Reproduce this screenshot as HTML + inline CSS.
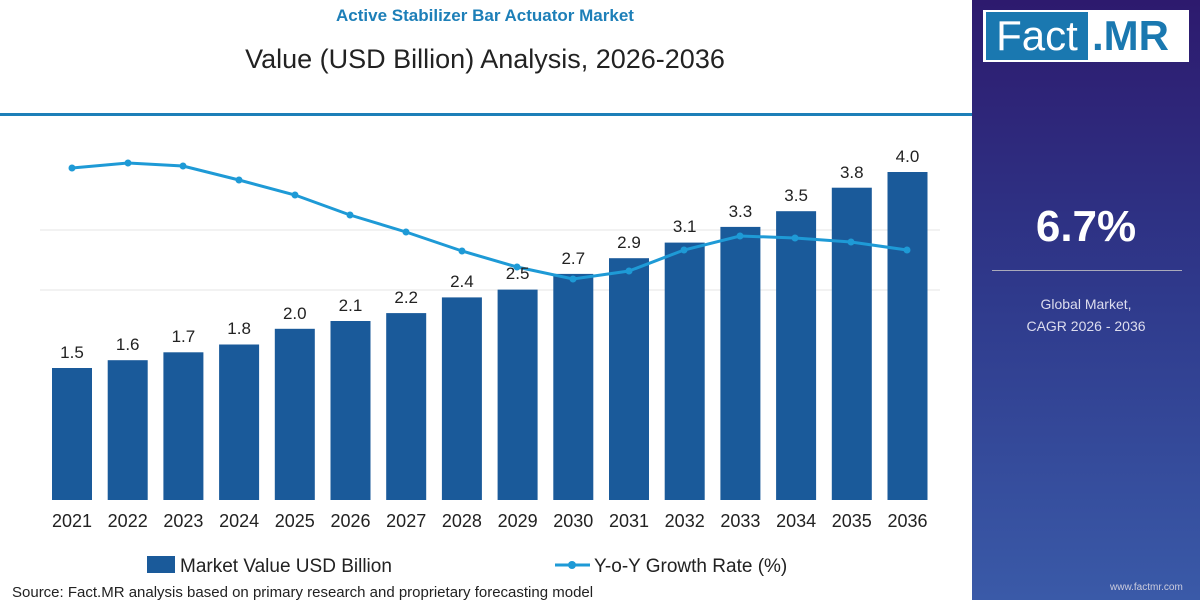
<!DOCTYPE html>
<html><head><style>
body{margin:0;width:1200px;height:600px;overflow:hidden;background:#fff;font-family:"Liberation Sans",sans-serif;position:relative}
.t{position:absolute;white-space:nowrap}
</style></head><body>
<div class="t" style="left:0;width:970px;top:6px;text-align:center;font-size:17px;font-weight:bold;color:#1d7fb8">Active Stabilizer Bar Actuator Market</div>
<div class="t" style="left:0;width:970px;top:44px;text-align:center;font-size:27px;color:#222">Value (USD Billion) Analysis, 2026-2036</div>
<div style="position:absolute;left:0;top:113px;width:972px;height:3px;background:#1d7fb8"></div>
<div style="position:absolute;left:972px;top:0;width:228px;height:600px;background:linear-gradient(180deg,#2d1a6e 0%,#2f3a8c 50%,#3a5aa8 100%)"></div>
<div style="position:absolute;left:983px;top:10px;width:206px;height:52px;background:#fff"></div>
<div class="t" style="left:986px;top:12px;width:102px;height:48px;background:#1a78b0;color:#fff;font-size:42px;line-height:48px;text-align:center">Fact</div>
<div class="t" style="left:1092px;top:12px;font-size:42px;line-height:48px;color:#1a78b0;font-weight:bold">.MR</div>
<div class="t" style="left:972px;width:228px;top:202px;text-align:center;color:#fff;font-size:44px;font-weight:bold">6.7%</div>
<div style="position:absolute;left:992px;top:270px;width:190px;height:1px;background:#aab"></div>
<div class="t" style="left:972px;width:228px;top:293px;text-align:center;color:#dde;font-size:14px;line-height:22px">Global Market,<br>CAGR 2026 - 2036</div>
<div class="t" style="left:1110px;top:582px;color:#ccd;font-size:10px">www.factmr.com</div>
<svg width="972" height="600" style="position:absolute;left:0;top:0" font-family="Liberation Sans,sans-serif">
<g stroke="#e6e6e6"><line x1="40" y1="230" x2="940" y2="230"/><line x1="40" y1="290" x2="940" y2="290"/></g>
<g fill="#1a5a9a">
<rect x="52" y="368" width="40" height="132"/>
<rect x="107.7" y="360.2" width="40" height="139.8"/>
<rect x="163.4" y="352.3" width="40" height="147.7"/>
<rect x="219.1" y="344.5" width="40" height="155.5"/>
<rect x="274.8" y="328.8" width="40" height="171.2"/>
<rect x="330.5" y="321" width="40" height="179"/>
<rect x="386.2" y="313.1" width="40" height="186.9"/>
<rect x="441.9" y="297.4" width="40" height="202.6"/>
<rect x="497.6" y="289.6" width="40" height="210.4"/>
<rect x="553.3" y="273.9" width="40" height="226.1"/>
<rect x="609" y="258.2" width="40" height="241.8"/>
<rect x="664.7" y="242.6" width="40" height="257.4"/>
<rect x="720.4" y="226.9" width="40" height="273.1"/>
<rect x="776.1" y="211.2" width="40" height="288.8"/>
<rect x="831.8" y="187.7" width="40" height="312.3"/>
<rect x="887.5" y="172" width="40" height="328"/>
</g>
<polyline fill="none" stroke="#1e9ad6" stroke-width="3" points="72,168 128,163 183,166 239,180 295,195 350,215 406,232 462,251 517,267 573,279 629,271 684,250 740,236 795,238 851,242 907,250"/>
<g fill="#1e9ad6"><circle cx="72" cy="168" r="3.5"/><circle cx="128" cy="163" r="3.5"/><circle cx="183" cy="166" r="3.5"/><circle cx="239" cy="180" r="3.5"/><circle cx="295" cy="195" r="3.5"/><circle cx="350" cy="215" r="3.5"/><circle cx="406" cy="232" r="3.5"/><circle cx="462" cy="251" r="3.5"/><circle cx="517" cy="267" r="3.5"/><circle cx="573" cy="279" r="3.5"/><circle cx="629" cy="271" r="3.5"/><circle cx="684" cy="250" r="3.5"/><circle cx="740" cy="236" r="3.5"/><circle cx="795" cy="238" r="3.5"/><circle cx="851" cy="242" r="3.5"/><circle cx="907" cy="250" r="3.5"/></g>
<g font-size="17" text-anchor="middle" fill="#222">
<text x="72" y="358">1.5</text><text x="127.7" y="350">1.6</text><text x="183.4" y="342">1.7</text><text x="239.1" y="334">1.8</text>
<text x="294.8" y="319">2.0</text><text x="350.5" y="311">2.1</text><text x="406.2" y="303">2.2</text><text x="461.9" y="287">2.4</text>
<text x="517.6" y="279">2.5</text><text x="573.3" y="264">2.7</text><text x="629" y="248">2.9</text><text x="684.7" y="232">3.1</text>
<text x="740.4" y="217">3.3</text><text x="796.1" y="201">3.5</text><text x="851.8" y="178">3.8</text><text x="907.5" y="162">4.0</text>
</g>
<g font-size="18" text-anchor="middle" fill="#222">
<text x="72" y="527">2021</text><text x="127.7" y="527">2022</text><text x="183.4" y="527">2023</text><text x="239.1" y="527">2024</text>
<text x="294.8" y="527">2025</text><text x="350.5" y="527">2026</text><text x="406.2" y="527">2027</text><text x="461.9" y="527">2028</text>
<text x="517.6" y="527">2029</text><text x="573.3" y="527">2030</text><text x="629" y="527">2031</text><text x="684.7" y="527">2032</text>
<text x="740.4" y="527">2033</text><text x="796.1" y="527">2034</text><text x="851.8" y="527">2035</text><text x="907.5" y="527">2036</text>
</g>
<rect x="147" y="556" width="28" height="17" fill="#1a5a9a"/>
<text x="180" y="572" font-size="19" fill="#222">Market Value USD Billion</text>
<line x1="555" y1="565" x2="590" y2="565" stroke="#1e9ad6" stroke-width="3"/><circle cx="572" cy="565" r="4" fill="#1e9ad6"/>
<text x="594" y="572" font-size="19" fill="#222">Y-o-Y Growth Rate (%)</text>
<text x="12" y="597" font-size="15" fill="#222">Source: Fact.MR analysis based on primary research and proprietary forecasting model</text>
</svg>
</body></html>
